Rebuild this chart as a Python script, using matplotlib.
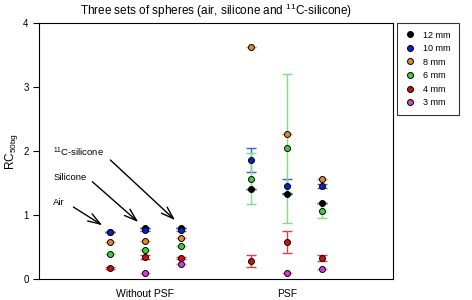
import matplotlib
matplotlib.use("Agg")
import matplotlib.pyplot as plt
import numpy as np

plt.rcParams['font.family'] = ['Liberation Sans', 'DejaVu Sans']
plt.rcParams['mathtext.default'] = 'regular'

# x positions: group centre (1 = Without PSF, 2 = PSF) +/- offset for air / silicone / 11C-silicone
groups = ["Without PSF", "PSF"]
sets_offset = [-0.25, 0.0, 0.25]

sizes = ["12 mm", "10 mm", "8 mm", "6 mm", "4 mm", "3 mm"]
colors = ["#000000", "#1020c8", "#e08a30", "#3cd23c", "#d01010", "#d23cd2"]
ecolors = ["#606060", "#4060d0", "#e0a060", "#80e080", "#e04040", "#e080e0"]

# values in order: [Without: air, sil, 11C, PSF: air, sil, 11C]
nan = np.nan
rc = {
    "12 mm": [0.73, 0.80, 0.80, 1.41, 1.33, 1.19],
    "10 mm": [0.73, 0.77, 0.77, 1.86, 1.45, 1.45],
    "8 mm":  [0.58, 0.59, 0.64, 3.62, 2.27, 1.56],
    "6 mm":  [0.39, 0.45, 0.52, 1.57, 2.04, 1.06],
    "4 mm":  [0.17, 0.34, 0.33, 0.28, 0.58, 0.33],
    "3 mm":  [nan, 0.10, 0.23, nan, 0.10, 0.16],
}
err = {
    "12 mm": [0.0, 0.0, 0.0, 0.0, 0.0, 0.0],
    "10 mm": [0.0, 0.02, 0.02, 0.18, 0.11, 0.03],
    "8 mm":  [0.0, 0.0, 0.0, 0.0, 0.0, 0.0],
    "6 mm":  [0.0, 0.0, 0.0, 0.40, 1.16, 0.11],
    "4 mm":  [0.02, 0.03, 0.02, 0.09, 0.17, 0.05],
    "3 mm":  [0.0, 0.0, 0.0, 0.0, 0.0, 0.0],
}

xs = [g + o for g in [1, 2] for o in sets_offset]

fig = plt.figure(figsize=(4.72, 3.0), dpi=100)
ax = fig.add_axes([0.0826, 0.07, 0.75, 0.853])

handles = []
for s, c, ec in zip(sizes, colors, ecolors):
    e = np.array(err[s])
    ax.errorbar(xs, rc[s], yerr=e, fmt='none', ecolor=ec, elinewidth=1.0,
                capsize=3.5, capthick=1.0, zorder=2)
    h, = ax.plot(xs, rc[s], 'o', color=c, markeredgecolor='black',
                 markeredgewidth=0.7, markersize=4.3, linestyle='none', label=s, zorder=3)
    handles.append(h)

ax.set_xlim(0.25, 2.75)
ax.set_ylim(0, 4)
ax.set_yticks([0, 1, 2, 3, 4])
ax.set_xticks([1, 2])
ax.set_xticklabels(groups)
ax.tick_params(axis='x', length=0, pad=7, labelsize=7.5)
ax.tick_params(axis='y', length=4, width=0.8, labelsize=7, direction='out')
ax.set_ylabel("RC$_{50bg}$", fontsize=8.5, labelpad=2)
ax.set_title("Three sets of spheres (air, silicone and $^{11}$C-silicone)",
             fontsize=8.5, pad=6)

# annotation labels with arrows
labels = ["Air", "Silicone", "$^{11}$C-silicone"]
text_xy = [(0.352, 1.19), (0.352, 1.58), (0.352, 1.98)]
arrow_from = [(0.493, 1.125), (0.627, 1.52), (0.754, 1.86)]
arrow_to = [(0.697, 0.84), (0.951, 0.89), (1.211, 0.92)]
for lab, t, a0, a1 in zip(labels, text_xy, arrow_from, arrow_to):
    ax.text(t[0], t[1], lab, fontsize=6.8, va='center', ha='left')
    ax.annotate('', xy=a1, xytext=a0,
                arrowprops=dict(arrowstyle='->,head_length=0.9,head_width=0.3',
                                lw=1.0, color='black', shrinkA=0, shrinkB=0))

leg = fig.legend(handles=handles, loc='upper left', bbox_to_anchor=(0.841, 0.925),
                 fontsize=6.5, frameon=True, fancybox=False, edgecolor='black',
                 borderpad=0.9, labelspacing=0.5, handletextpad=0.8,
                 handlelength=1.2, borderaxespad=0)
leg.get_frame().set_linewidth(0.8)

fig.savefig("out.png", dpi=100)
